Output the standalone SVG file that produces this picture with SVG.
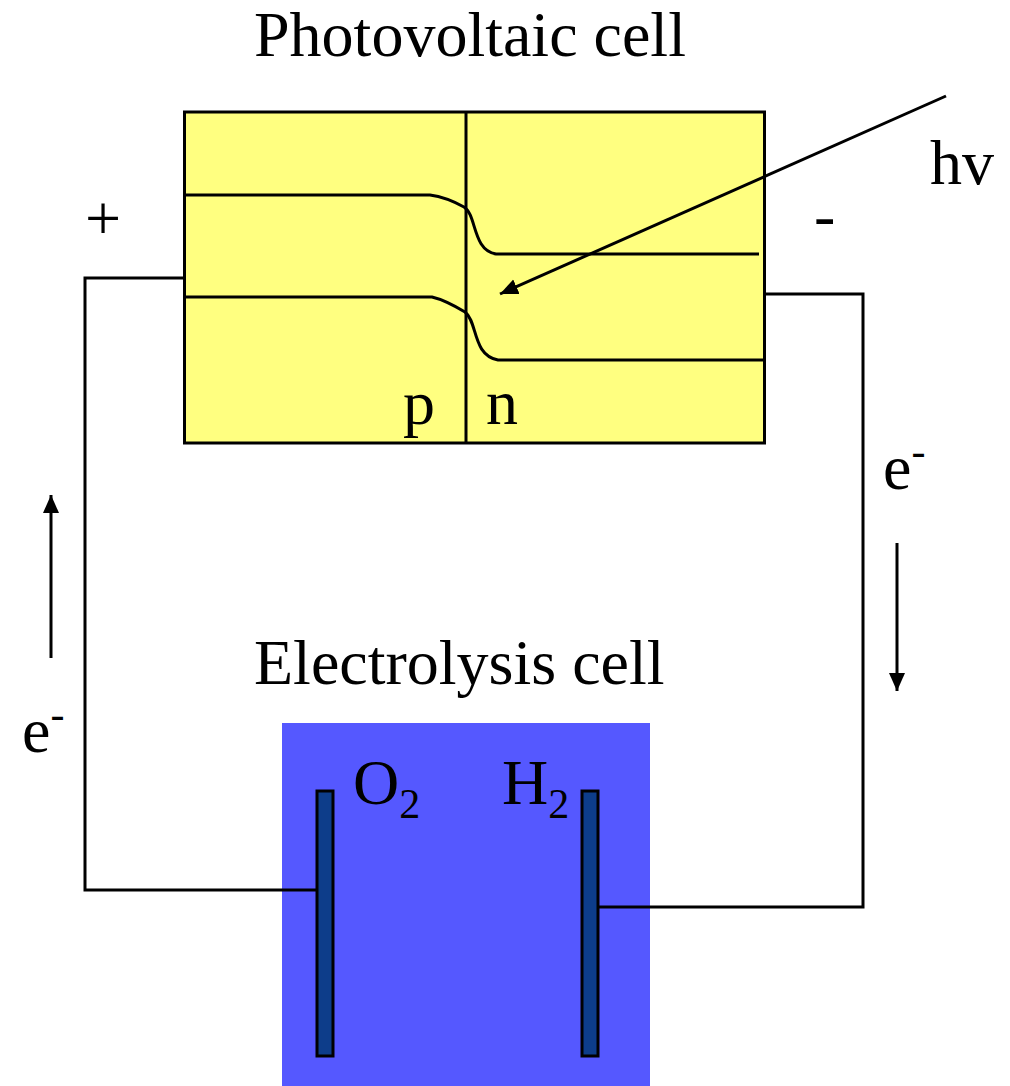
<svg xmlns="http://www.w3.org/2000/svg" width="1010" height="1086" viewBox="0 0 1010 1086">
<defs><style>
text{font-family:"Liberation Serif","Times New Roman",serif;font-size:64px;fill:#000}
.sub{font-size:42px}
.l{fill:none;stroke:#000;stroke-width:3}
.el{fill:#0d3d8a;stroke:#000;stroke-width:3}
</style>
<marker id="a" markerUnits="userSpaceOnUse" markerWidth="20" markerHeight="18" refX="18" refY="8" orient="auto"><path d="M0 0L18 8L0 16z" fill="#000"/></marker>
</defs>
<rect width="1010" height="1086" fill="#fff"/>
<g id="pv-cell"><rect x="184.500" y="112" width="580" height="331" fill="#ffff80" stroke="#000" stroke-width="3"/>
<path class="l" d="M466 112V443"/>
<path class="l" d="M184 195H430C445 197 455 202 464 207C477 215 472 250 496 254H759"/>
<path class="l" d="M184 297H432C445 300 455 306 465 312C478 322 472 355 498 360H764"/></g>
<g id="electrolysis-cell"><rect x="282" y="723" width="368" height="363" fill="#5558ff"/>
<rect class="el" x="317" y="791" width="16" height="265"/><rect class="el" x="582" y="791" width="16" height="265"/></g>
<g id="connectors">
<path class="l" d="M184 278H85V890H317"/><path class="l" d="M764 294H863V907H598"/>
<path class="l" d="M946 96L500 294" marker-end="url(#a)"/>
<path class="l" d="M51 658V495" marker-end="url(#a)"/>
<path class="l" d="M897 543V691" marker-end="url(#a)"/></g>
<g id="labels">
<text x="254" y="56">Photovoltaic cell</text>
<text x="254" y="684">Electrolysis cell</text>
<text x="930" y="184">hv</text>
<text x="85" y="240">+</text>
<text x="814" y="237">-</text>
<text x="403" y="424">p</text>
<text x="486" y="424">n</text>
<text x="883" y="489">e<tspan class="sub" dy="-24">-</tspan></text>
<text x="22" y="752">e<tspan class="sub" dy="-24">-</tspan></text>
<text x="353" y="804">O<tspan class="sub" dy="14">2</tspan></text>
<text x="502" y="804">H<tspan class="sub" dy="14">2</tspan></text>
</g>
</svg>
